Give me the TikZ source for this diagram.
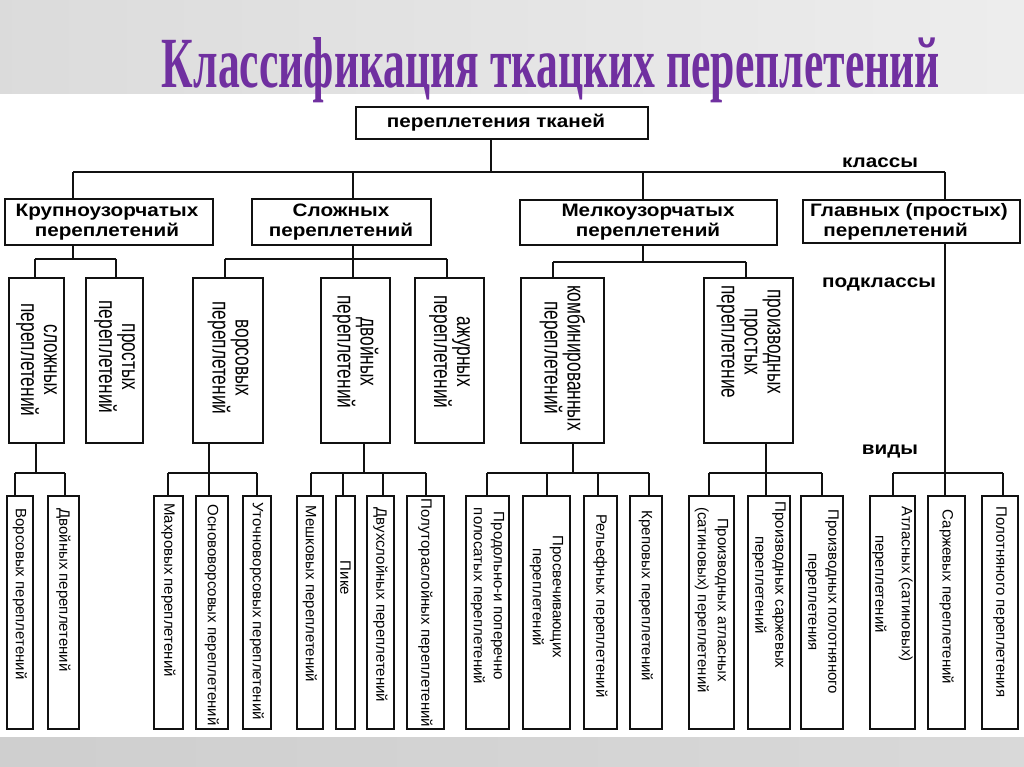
\documentclass[tikz,border=0pt]{standalone}
\usepackage{fontspec}
\setmainfont{Liberation Sans}
\newfontfamily\clsfont[FakeStretch=1.15]{Liberation Sans}
\newfontfamily\subfont[FakeStretch=0.72]{Liberation Sans}
\newfontfamily\titlefont{Liberation Serif}
\usepackage{graphicx}
\usetikzlibrary{fit,calc}
\definecolor{ink}{HTML}{111111}
\definecolor{titlepurple}{HTML}{7030A0}
\tikzset{
  frame/.style={draw=ink,line width=1.4pt,fill=white,inner sep=0pt},
  clstext/.style={font=\clsfont\bfseries\fontsize{13.5}{15}\selectfont,align=center,inner sep=0pt},
  levellabel/.style={clstext},
  subtext/.style={font=\subfont\fontsize{18}{17.25}\selectfont,align=center,rotate=-90,inner sep=0pt},
  leaftext/.style={font=\fontsize{11.25}{15}\selectfont,align=center,rotate=-90,inner sep=0pt},
  link/.style={draw=ink,line width=1.4pt},
}

\begin{document}
\begin{tikzpicture}[x=0.75pt,y=-0.75pt]
  \useasboundingbox (0,0) rectangle (1024,767);
  \fill[white] (0,0) rectangle (1024,767);
  \shade[left color=gray!28,middle color=gray!4,right color=gray!14] (0,0) rectangle (1024,94);
  \shade[left color=gray!38,middle color=gray!8,right color=gray!30] (0,737) rectangle (1024,767);

  \node[anchor=base,inner sep=0pt,text=titlepurple] (title) at (551,87)
    {\resizebox{583.5pt}{37.5pt}{\titlefont\bfseries Классификация ткацких переплетений}};

  \foreach \n/\xa/\ya/\xb/\yb/\tx/\t in {root/356/107/648/139/496/{переплетения тканей},
      kl1/5/199/213/245/107/{Крупноузорчатых\\переплетений},kl2/252/199/431/245/341/{Сложных\\переплетений},
      kl3/520/200/777/245/648/{Мелкоузорчатых\\переплетений},
      kl4/803/200/1020/243/909/{Главных (простых)\\\hspace*{-20pt}переплетений}}{
    \node[frame,fit={(\xa,\ya) (\xb,\yb)}] (\n) {};
    \node[clstext] (\n-t) at (\n.center -| \tx,0) {\t};
  }

  \node[levellabel] (lbl-cls) at (880,163) {классы};
  \node[levellabel] (lbl-sub) at (879,284) {подклассы};
  \node[levellabel] (lbl-kind) at (890,452) {виды};

  \foreach \n/\xa/\xb/\ty/\t in {s1/9/64/360/{сложных\\переплетений},s2/86/143/357/{простых\\переплетений},
      s3/193/263/358/{ворсовых\\переплетений},s4/321/390/352/{двойных\\переплетений},
      s5/415/484/352/{ажурных\\переплетений},s6/521/604/358/{комбинированных\\переплетений},
      s7/704/793/342/{производных\\простых\\переплетение}}{
    \node[frame,fit={(\xa,278) (\xb,443)}] (\n) {};
    \node[subtext] (\n-t) at (\n.center |- 0,\ty) {\t};
  }

  \foreach \n/\xa/\xb/\ty/\t in {l1/7/33/594/{Ворсовых переплетений},l2/48/79/590/{Двойных переплетений},
      l3/154/183/590/{Махровых переплетений},l4/196/228/615/{Основоворсовых переплетений},
      l5/243/271/611/{Уточноворсовых переплетений},l6/297/323/594/{Мешковых переплетений},
      l7/336/355/578/{Пике},l8/367/394/605/{Двухслойных переплетений},
      l9/407/444/613/{Полутораслойных переплетений},l10/466/509/596/{Продольно-и поперечно\\полосатых переплетений},
      l11/523/570/597/{Просвечивающих\\переплетений},l12/584/617/606/{Рельефных переплетений},
      l13/630/662/596/{Креповых переплетений},l14/689/734/600/{Производных атласных\\(сатиновых) переплетений},
      l15/748/790/585/{Производных саржевых\\переплетений},l16/801/843/602/{Производных полотняного\\переплетения},
      l17/870/915/584/{Атласных (сатиновых)\\[5pt]переплетений},l18/928/965/597/{Саржевых переплетений},
      l19/982/1018/602/{Полотняного переплетения}}{
    \node[frame,fit={(\xa,496) (\xb,729)}] (\n) {};
    \node[leaftext] (\n-t) at (\n.center |- 0,\ty) {\t};
  }

  \foreach \p/\xp/\yb/\xl/\xr in {root/491/172/73/945,kl1/73/259/35/116,kl2/353/259/225/447,kl3/643/262/553/746,
      kl4/945/473/893/1003,s1/36/473/15/65,s3/209/473/168/257,s4/364/473/311/426,s6/573/473/487/649,s7/766/473/709/822}{
    \draw[link] (\p.south -| \xp,0) -- (\xp,\yb);
    \draw[link] (\xl,\yb) -- (\xr,\yb);
  }
  \foreach \c/\x/\yb in {kl1/73/172,kl2/353/172,kl3/643/172,kl4/945/172,s1/35/259,s2/116/259,s3/225/259,s4/353/259,
      s5/447/259,s6/553/262,s7/746/262,l1/15/473,l2/65/473,l3/168/473,l4/209/473,l5/257/473,l6/311/473,l7/343/473,
      l8/383/473,l9/426/473,l10/487/473,l11/547/473,l12/598/473,l13/649/473,l14/709/473,l15/766/473,l16/822/473,
      l17/893/473,l18/945/473,l19/1003/473}
    \draw[link] (\c.north -| \x,0) -- (\x,\yb);
\end{tikzpicture}
\end{document}
